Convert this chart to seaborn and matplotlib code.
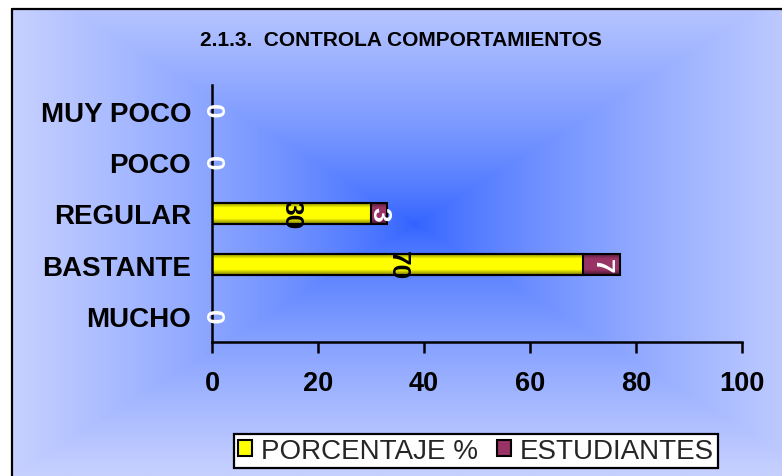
import numpy as np
import pandas as pd
import matplotlib
matplotlib.use("Agg")
import matplotlib.pyplot as plt
from matplotlib.patches import Patch
from matplotlib.colors import LinearSegmentedColormap
import seaborn as sns

categories = ["MUY POCO", "POCO", "REGULAR", "BASTANTE", "MUCHO"]
porcentaje = [0, 0, 30, 70, 0]
estudiantes = [0, 0, 3, 7, 0]
x_ticks = [0, 20, 40, 60, 80, 100]
title = "2.1.3.  CONTROLA COMPORTAMIENTOS"
series_names = ["PORCENTAJE %", "ESTUDIANTES"]

sns.set_theme(style="white")
plt.rcParams['font.family'] = ['Liberation Sans', 'DejaVu Sans']

W, H = 782, 477
fig = plt.figure(figsize=(W / 100, H / 100), dpi=100)
fig.patch.set_facecolor("white")

# background rectangular "from center" gradient
bx0, by0 = 12, 9.5
bg = fig.add_axes([bx0 / W, 0, 1 - bx0 / W, 1 - by0 / H], zorder=-10)
nx, ny = 400, 250
xs = np.linspace(bx0, W, nx)
ys = np.linspace(by0, H, ny)
X, Y = np.meshgrid(xs, ys)
cx, cy = 415, 225
t = np.maximum(np.abs(X - cx) / 400, np.abs(Y - cy) / 250)
t = np.clip(t, 0, 1) ** 0.75
c0 = np.array([0x30, 0x62, 0xFF]) / 255
c1 = np.array([0xC6, 0xD0, 0xFF]) / 255
img = c0[None, None, :] * (1 - t[..., None]) + c1[None, None, :] * t[..., None]
bg.imshow(img, extent=[bx0, W, H, by0], aspect="auto", interpolation="bilinear")
bg.set_xlim(bx0, W)
bg.set_ylim(H, by0)
bg.axis("off")
# border lines left and top
fig.add_artist(plt.Line2D([bx0 / W, bx0 / W], [0, 1 - by0 / H], color="black", lw=1.6))
fig.add_artist(plt.Line2D([bx0 / W, 1], [1 - by0 / H, 1 - by0 / H], color="black", lw=1.6))

ax = fig.add_axes([212 / W, 1 - 343 / H, (742 - 212) / W, (343 - 86) / H])
ax.patch.set_alpha(0)

df = pd.DataFrame({"cat": categories, "pct": porcentaje, "est": estudiantes})
df["total"] = df["pct"] + df["est"]

purple = "#993366"
yellow = "#FFFF00"
sns.barplot(data=df, y="cat", x="total", order=categories, color=purple,
            orient="h", width=0.41, edgecolor="black", linewidth=1.5, ax=ax,
            saturation=1)
n_first = len(ax.patches)
sns.barplot(data=df, y="cat", x="pct", order=categories, color=yellow,
            orient="h", width=0.41, edgecolor="black", linewidth=1.5, ax=ax,
            saturation=1)

# shaded gradient fill inside bars
def shade(base, dark):
    return LinearSegmentedColormap.from_list(
        "s", [dark, base, base, base, dark], N=64)

cm_p = shade("#993366", "#4A1530")
cm_y = shade("#FFFF00", "#7A7A00")
grad = np.linspace(0, 1, 64).reshape(-1, 1)
for i, p in enumerate(list(ax.patches)):
    w = p.get_width()
    if w <= 0:
        continue
    x0, y0 = p.get_x(), p.get_y()
    h = p.get_height()
    cm = cm_p if i < n_first else cm_y
    base_z = 2 + (1 if i >= n_first else 0)
    im = ax.imshow(grad, cmap=cm, extent=[x0, x0 + w, y0 + h, y0],
                   aspect="auto", zorder=base_z)
    im.set_clip_path(p)
    p.set_facecolor("none")
    p.set_zorder(base_z + 0.5)

ax.set_xlim(0, 100)
ax.set_ylim(4.5, -0.5)
ax.set_xticks(x_ticks)
ax.set_xticklabels([str(v) for v in x_ticks])
ax.set_xlabel("")
ax.set_ylabel("")
for s in ["top", "right"]:
    ax.spines[s].set_visible(False)
for s in ["left", "bottom"]:
    ax.spines[s].set_color("black")
    ax.spines[s].set_linewidth(1.8)
    ax.spines[s].set_zorder(5)
ax.tick_params(axis="x", bottom=True, length=8, width=1.8, color="black",
               pad=12, labelsize=19.5)
ax.tick_params(axis="y", left=False, length=0, pad=15, labelsize=20)
for lab in ax.get_xticklabels() + ax.get_yticklabels():
    lab.set_fontweight("bold")
    lab.set_color("black")
ax.grid(False)

# data labels
for i, (p_, e_) in enumerate(zip(porcentaje, estudiantes)):
    ax.text(p_ / 2, i, str(p_), rotation=270, ha="center", va="center",
            fontsize=19, fontweight="bold",
            color="black" if p_ > 0 else "white", zorder=10, clip_on=False)
    if e_ > 0:
        ax.text(p_ + e_ / 2, i, str(e_), rotation=270, ha="center", va="center",
                fontsize=19, fontweight="bold", color="white", zorder=10)

fig.text(401 / W, 1 - 40 / H, title, ha="center", va="center",
         fontsize=15, fontweight="bold", color="black")

handles = [Patch(facecolor=yellow, edgecolor="black", lw=1.5),
           Patch(facecolor=purple, edgecolor="black", lw=1.5)]
leg = fig.legend(handles, series_names, loc="center", bbox_to_anchor=(476 / W, 1 - 452 / H),
                 ncol=2, fontsize=20, frameon=True, fancybox=False,
                 handlelength=0.5, handleheight=0.5, handletextpad=0.3,
                 columnspacing=0.7, borderpad=0.15, borderaxespad=0)
leg.get_frame().set_edgecolor("black")
leg.get_frame().set_linewidth(1.6)
leg.get_frame().set_facecolor("white")
leg.get_frame().set_alpha(1)

fig.savefig("out.png", dpi=100)
